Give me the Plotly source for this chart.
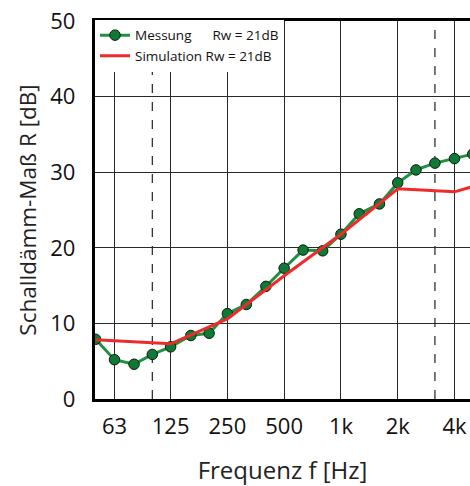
import numpy as np
import plotly.graph_objects as go

# Third-octave band centre frequencies [Hz] and measured sound reduction index R [dB]
freq_meas = [50, 63, 80, 100, 125, 160, 200, 250, 315, 400, 500,
             630, 800, 1000, 1250, 1600, 2000, 2500, 3150, 4000, 5000]
r_meas = [7.9, 5.2, 4.6, 5.9, 6.9, 8.4, 8.7, 11.3, 12.5, 14.9, 17.3,
          19.7, 19.6, 21.8, 24.5, 25.8, 28.6, 30.3, 31.2, 31.8, 32.4]

# Simulated curve (break points)
freq_sim = [50, 125, 250, 500, 1000, 2000, 4000, 5000]
r_sim = [7.85, 7.3, 10.6, 16.3, 21.8, 27.8, 27.4, 28.1]

# Octave tick labels and dashed limits of the evaluation range
tick_freqs = [63, 125, 250, 500, 1000, 2000, 4000]
tick_text = ["63", "125", "250", "500", "1k", "2k", "4k"]
range_limits = [100, 3150]

legend_meas = "Messung\u00a0\u00a0\u00a0\u00a0\u00a0\u00a0Rw = 21dB"
legend_sim = "Simulation Rw = 21dB"

FONT = "Open Sans"

fig = go.Figure()

fig.add_trace(go.Scatter(
    x=freq_meas, y=r_meas, name=legend_meas, mode="lines+markers",
    line=dict(color="#1f9142", width=3),
    marker=dict(size=10.5, color="#0e7a36", line=dict(color="#0a1a0a", width=1)),
))
fig.add_trace(go.Scatter(
    x=freq_sim, y=r_sim, name=legend_sim, mode="lines",
    line=dict(color="#ee2a2a", width=3),
))

for f in range_limits:
    fig.add_shape(type="line", xref="x", yref="paper", x0=f, x1=f, y0=0, y1=1,
                  line=dict(color="#333333", width=1.3, dash="dash"), layer="below")

x_lo = np.log10(50) - 0.003
x_hi = x_lo + 375 / 188.6

fig.update_layout(
    width=470, height=486,
    margin=dict(l=95, r=0, t=21, b=87, pad=0),
    paper_bgcolor="white", plot_bgcolor="white",
    font=dict(family=FONT, color="#111111"),
    showlegend=True,
    legend=dict(x=0, y=1.003, xanchor="left", yanchor="top",
                bgcolor="white", borderwidth=0,
                font=dict(size=13.5, family=FONT, color="#111111"),
                tracegroupgap=0, itemwidth=30),
    xaxis=dict(
        type="log", range=[x_lo, x_hi],
        tickmode="array", tickvals=tick_freqs, ticktext=tick_text,
        showgrid=True, gridcolor="#2a2a2a", gridwidth=1.3,
        showline=True, linecolor="black", linewidth=3.4, mirror=True,
        ticks="outside", ticklen=5, tickcolor="rgba(0,0,0,0)",
        tickfont=dict(size=22, family=FONT, color="#111111"),
        title=dict(text="Frequenz f [Hz]", font=dict(size=24, family=FONT, color="#222222"),
                   standoff=26),
        zeroline=False,
    ),
    yaxis=dict(
        range=[0, 50], tickmode="array", tickvals=[0, 10, 20, 30, 40, 50],
        showgrid=True, gridcolor="#2a2a2a", gridwidth=1.3,
        showline=True, linecolor="black", linewidth=3.4, mirror=False,
        ticks="outside", ticklen=12, tickcolor="rgba(0,0,0,0)",
        tickfont=dict(size=22, family=FONT, color="#111111"),
        title=dict(text="Schalldämm-Maß R [dB]", font=dict(size=22.5, family=FONT, color="#222222"),
                   standoff=8),
        zeroline=False,
    ),
)

fig.write_html("out.html")
